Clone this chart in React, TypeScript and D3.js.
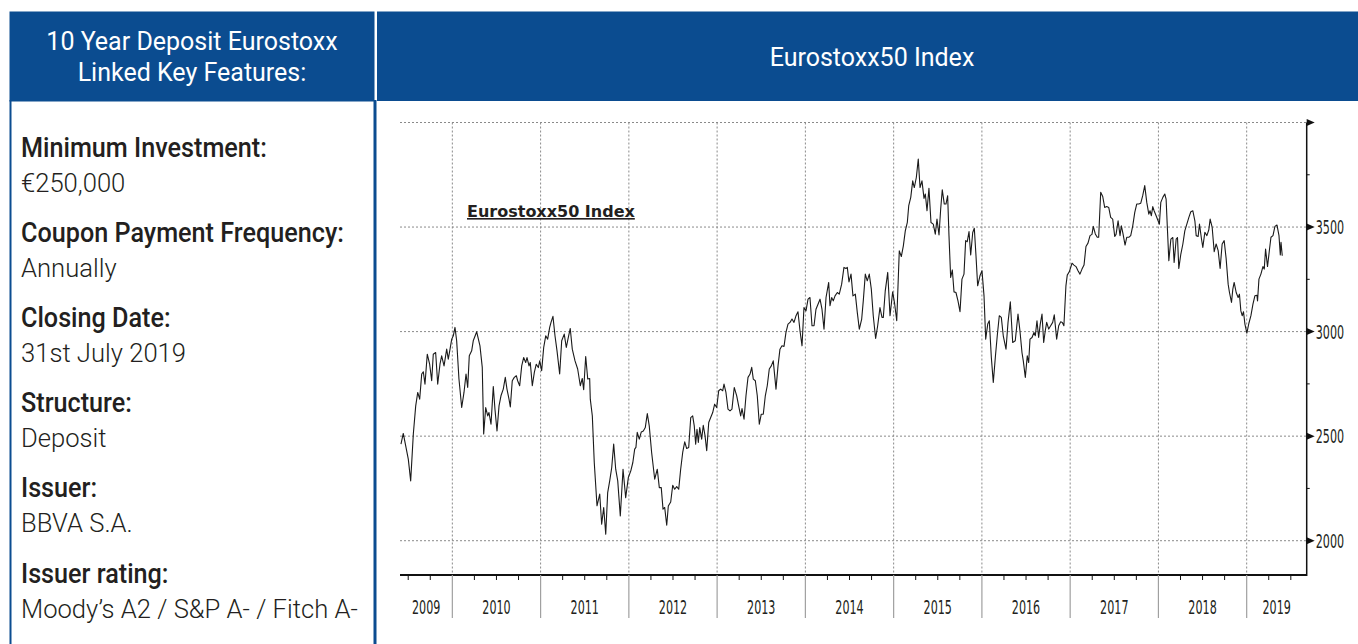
import React from 'react';
import * as d3 from 'd3';

// ---- Data (decimal years, index level) ----
const indexTimes = [
  2009.418, 2009.444, 2009.475, 2009.501, 2009.528, 2009.558, 2009.585, 2009.608, 2009.630, 2009.653,
  2009.671, 2009.690, 2009.716, 2009.743, 2009.766, 2009.784, 2009.811, 2009.834, 2009.860, 2009.879,
  2009.906, 2009.936, 2009.954, 2009.974, 2009.993, 2010.011, 2010.030, 2010.049, 2010.075, 2010.106,
  2010.132, 2010.155, 2010.174, 2010.192, 2010.219, 2010.237, 2010.276, 2010.313, 2010.339, 2010.355,
  2010.378, 2010.401, 2010.415, 2010.438, 2010.464, 2010.483, 2010.506, 2010.529, 2010.551, 2010.577,
  2010.600, 2010.619, 2010.642, 2010.657, 2010.679, 2010.702, 2010.725, 2010.740, 2010.763, 2010.786,
  2010.808, 2010.831, 2010.846, 2010.869, 2010.883, 2010.906, 2010.929, 2010.951, 2010.974, 2010.990,
  2011.012, 2011.035, 2011.058, 2011.080, 2011.103, 2011.118, 2011.140, 2011.163, 2011.186, 2011.216,
  2011.239, 2011.268, 2011.291, 2011.314, 2011.336, 2011.359, 2011.390, 2011.420, 2011.450, 2011.472,
  2011.488, 2011.511, 2011.534, 2011.556, 2011.563, 2011.586, 2011.608, 2011.639, 2011.670, 2011.692,
  2011.715, 2011.738, 2011.760, 2011.783, 2011.806, 2011.828, 2011.851, 2011.874, 2011.903, 2011.934,
  2011.964, 2011.994, 2012.022, 2012.045, 2012.066, 2012.080, 2012.095, 2012.118, 2012.141, 2012.164,
  2012.186, 2012.209, 2012.231, 2012.258, 2012.293, 2012.322, 2012.345, 2012.367, 2012.387, 2012.406,
  2012.429, 2012.447, 2012.474, 2012.497, 2012.519, 2012.542, 2012.565, 2012.587, 2012.610, 2012.633,
  2012.655, 2012.678, 2012.701, 2012.723, 2012.741, 2012.757, 2012.772, 2012.787, 2012.803, 2012.825,
  2012.843, 2012.863, 2012.882, 2012.905, 2012.927, 2012.950, 2012.972, 2012.995, 2013.018, 2013.040,
  2013.063, 2013.078, 2013.100, 2013.123, 2013.146, 2013.168, 2013.194, 2013.222, 2013.244, 2013.267,
  2013.282, 2013.305, 2013.327, 2013.350, 2013.373, 2013.392, 2013.410, 2013.433, 2013.455, 2013.478,
  2013.500, 2013.523, 2013.546, 2013.568, 2013.591, 2013.614, 2013.636, 2013.667, 2013.690, 2013.712,
  2013.735, 2013.758, 2013.780, 2013.803, 2013.826, 2013.848, 2013.871, 2013.894, 2013.916, 2013.939,
  2013.962, 2013.984, 2014.007, 2014.030, 2014.052, 2014.075, 2014.098, 2014.120, 2014.143, 2014.166,
  2014.188, 2014.211, 2014.234, 2014.264, 2014.279, 2014.298, 2014.316, 2014.336, 2014.362, 2014.384,
  2014.411, 2014.437, 2014.460, 2014.475, 2014.494, 2014.517, 2014.539, 2014.566, 2014.588, 2014.611,
  2014.638, 2014.656, 2014.679, 2014.701, 2014.724, 2014.747, 2014.769, 2014.796, 2014.819, 2014.845,
  2014.868, 2014.883, 2014.905, 2014.933, 2014.959, 2014.989, 2015.012, 2015.035, 2015.064, 2015.087,
  2015.110, 2015.132, 2015.155, 2015.171, 2015.194, 2015.216, 2015.234, 2015.257, 2015.279, 2015.299,
  2015.321, 2015.344, 2015.359, 2015.378, 2015.400, 2015.423, 2015.449, 2015.472, 2015.491, 2015.514,
  2015.533, 2015.551, 2015.574, 2015.593, 2015.612, 2015.627, 2015.646, 2015.665, 2015.684, 2015.706,
  2015.729, 2015.752, 2015.774, 2015.797, 2015.816, 2015.834, 2015.854, 2015.873, 2015.896, 2015.914,
  2015.933, 2015.952, 2015.978, 2016.001, 2016.024, 2016.043, 2016.066, 2016.084, 2016.107, 2016.129,
  2016.152, 2016.174, 2016.197, 2016.220, 2016.242, 2016.273, 2016.296, 2016.322, 2016.349, 2016.378,
  2016.409, 2016.431, 2016.454, 2016.469, 2016.492, 2016.514, 2016.530, 2016.545, 2016.568, 2016.590,
  2016.605, 2016.624, 2016.643, 2016.661, 2016.681, 2016.700, 2016.718, 2016.734, 2016.757, 2016.779,
  2016.802, 2016.820, 2016.847, 2016.870, 2016.893, 2016.911, 2016.929, 2016.952, 2016.967, 2016.990,
  2017.021, 2017.043, 2017.066, 2017.089, 2017.111, 2017.134, 2017.157, 2017.179, 2017.202, 2017.225,
  2017.247, 2017.262, 2017.285, 2017.307, 2017.323, 2017.346, 2017.369, 2017.391, 2017.414, 2017.437,
  2017.459, 2017.482, 2017.505, 2017.520, 2017.543, 2017.565, 2017.580, 2017.599, 2017.622, 2017.641,
  2017.664, 2017.686, 2017.709, 2017.732, 2017.754, 2017.777, 2017.800, 2017.822, 2017.845, 2017.868,
  2017.891, 2017.905, 2017.920, 2017.936, 2017.951, 2017.974, 2017.996, 2018.011, 2018.027, 2018.050,
  2018.072, 2018.087, 2018.102, 2018.118, 2018.141, 2018.163, 2018.178, 2018.201, 2018.216, 2018.231,
  2018.254, 2018.277, 2018.299, 2018.322, 2018.345, 2018.367, 2018.390, 2018.413, 2018.428, 2018.450,
  2018.465, 2018.488, 2018.503, 2018.526, 2018.549, 2018.571, 2018.586, 2018.609, 2018.632, 2018.654,
  2018.677, 2018.699, 2018.722, 2018.745, 2018.767, 2018.790, 2018.805, 2018.828, 2018.843, 2018.858,
  2018.881, 2018.903, 2018.918, 2018.934, 2018.949, 2018.964, 2018.980, 2019.002, 2019.025, 2019.048,
  2019.071, 2019.093, 2019.116, 2019.123, 2019.139, 2019.161, 2019.184, 2019.199, 2019.214, 2019.236,
  2019.259, 2019.275, 2019.298, 2019.320, 2019.343, 2019.366, 2019.381, 2019.389, 2019.403,
];

const indexValues = [
  2462, 2513, 2446, 2390, 2286, 2510, 2645, 2709, 2677, 2797,
  2808, 2749, 2892, 2844, 2765, 2892, 2900, 2749, 2844, 2884,
  2836, 2916, 2868, 2916, 2964, 2980, 3020, 2956, 2773, 2637,
  2709, 2797, 2733, 2884, 2908, 2956, 2999, 2932, 2829, 2510,
  2637, 2597, 2613, 2557, 2737, 2629, 2525, 2645, 2693, 2725,
  2781, 2725, 2677, 2640, 2765, 2781, 2789, 2765, 2741, 2836,
  2876, 2852, 2876, 2836, 2852, 2741, 2805, 2844, 2828, 2860,
  2813, 2924, 2980, 2964, 3020, 3044, 3073, 2980, 2908, 2797,
  2956, 2988, 2924, 2972, 3015, 2916, 2860, 2821, 2741, 2776,
  2722, 2881, 2773, 2776, 2677, 2597, 2374, 2167, 2223, 2079,
  2159, 2031, 2230, 2286, 2350, 2462, 2342, 2286, 2118, 2342,
  2206, 2302, 2334, 2374, 2438, 2446, 2518, 2486, 2520, 2525,
  2541, 2608, 2549, 2422, 2294, 2342, 2254, 2254, 2151, 2159,
  2074, 2166, 2185, 2265, 2246, 2259, 2246, 2342, 2422, 2473,
  2441, 2446, 2589, 2597, 2549, 2462, 2533, 2470, 2541, 2486,
  2552, 2502, 2430, 2565, 2589, 2613, 2653, 2637, 2717, 2725,
  2717, 2749, 2709, 2629, 2621, 2629, 2733, 2693, 2645, 2597,
  2632, 2581, 2693, 2781, 2797, 2829, 2773, 2765, 2693, 2557,
  2605, 2605, 2693, 2741, 2821, 2836, 2860, 2725, 2836, 2916,
  2932, 2929, 2996, 3036, 3044, 3060, 3044, 3076, 3095, 3004,
  2932, 3115, 3099, 3155, 3163, 3028, 3028, 3107, 3131, 3155,
  3107, 3012, 3163, 3235, 3124, 3163, 3147, 3171, 3187, 3179,
  3227, 3307, 3302, 3307, 3238, 3275, 3171, 3179, 3092, 3012,
  3060, 3147, 3275, 3243, 3275, 3203, 3076, 2967, 3028, 3115,
  3068, 3068, 3195, 3283, 3076, 3190, 3131, 3052, 3386, 3359,
  3410, 3482, 3522, 3602, 3642, 3721, 3689, 3737, 3825, 3689,
  3721, 3637, 3658, 3578, 3685, 3522, 3514, 3466, 3538, 3462,
  3586, 3678, 3610, 3610, 3650, 3459, 3259, 3295, 3190, 3187,
  3147, 3095, 3251, 3275, 3435, 3430, 3478, 3366, 3474, 3494,
  3363, 3219, 3267, 3291, 3171, 2964, 3036, 3052, 2876, 2757,
  2876, 2980, 3076, 3068, 2980, 2916, 3044, 3143, 2948, 2956,
  3084, 3004, 2900, 2860, 2781, 2884, 2852, 2964, 2972, 2996,
  2980, 3052, 2972, 3036, 3084, 2948, 3004, 3044, 3012, 3028,
  3044, 3080, 2964, 3028, 3047, 3044, 3028, 3219, 3270, 3286,
  3327, 3318, 3311, 3291, 3275, 3299, 3318, 3407, 3423, 3459,
  3465, 3503, 3467, 3451, 3451, 3666, 3646, 3594, 3598, 3594,
  3546, 3538, 3455, 3465, 3530, 3459, 3506, 3467, 3414, 3451,
  3451, 3459, 3506, 3570, 3610, 3610, 3614, 3650, 3698, 3618,
  3562, 3578, 3554, 3598, 3578, 3554, 3530, 3514, 3618, 3642,
  3658, 3634, 3490, 3339, 3442, 3450, 3331, 3442, 3450, 3302,
  3371, 3419, 3482, 3514, 3546, 3573, 3578, 3530, 3459, 3455,
  3514, 3443, 3403, 3475, 3459, 3487, 3538, 3498, 3382, 3419,
  3387, 3302, 3419, 3435, 3350, 3227, 3187, 3140, 3203, 3235,
  3187, 3163, 3179, 3099, 3076, 3095, 3036, 2993, 3040, 3076,
  3131, 3171, 3174, 3147, 3251, 3275, 3311, 3299, 3395, 3311,
  3395, 3451, 3459, 3503, 3510, 3459, 3366, 3427, 3363,
];

const yearLabels = [2009, 2010, 2011, 2012, 2013, 2014, 2015, 2016, 2017, 2018, 2019];
const yTickValues = [2000, 2500, 3000, 3500, 4000];
const yMinorTickValues = [2250, 2750, 3250, 3750];
const yLabelValues = [2000, 2500, 3000, 3500];

const featureLabels = [
  'Minimum Investment:',
  'Coupon Payment Frequency:',
  'Closing Date:',
  'Structure:',
  'Issuer:',
  'Issuer rating:',
];
const featureValues = [
  '€250,000',
  'Annually',
  '31st July 2019',
  'Deposit',
  'BBVA S.A.',
  'Moody’s A2 / S&P A- / Fitch A-',
];

const leftTitle = ['10 Year Deposit Eurostoxx', 'Linked Key Features:'];
const rightTitle = 'Eurostoxx50 Index';
const chartLabel = 'Eurostoxx50 Index';

const xDomain: [number, number] = [2009.407, 2019.68];
const yDomain: [number, number] = [1836, 4000];

const BLUE = '#0b4c90';
const TEXT = '#231f20';
const HEAD_FONT = 'Roboto, "Liberation Sans", sans-serif';
const AX_FONT = '"DejaVu Sans Condensed", "Liberation Sans Narrow", sans-serif';
const AX_SIZE = 20;
const AX_SQUEEZE = 0.62;

export default function App() {
  const W = 1358;
  const H = 644;
  const plot = { left: 400, right: 1306.7, top: 122.5, bottom: 575 };

  const x = d3.scaleLinear().domain(xDomain).range([plot.left, plot.right]);
  const y = d3.scaleLinear().domain(yDomain).range([plot.bottom, plot.top]);

  const points: [number, number][] = indexTimes.map((t, i) => [t, indexValues[i]]);
  const line = d3
    .line<[number, number]>()
    .x((d) => x(d[0]))
    .y((d) => y(d[1]));

  const yearStarts = yearLabels.filter((yr) => yr > xDomain[0] && yr < xDomain[1]);
  const quarterTicks = d3
    .range(Math.ceil(xDomain[0] * 4), Math.floor(xDomain[1] * 4) + 1)
    .map((q) => q / 4)
    .filter((q) => q % 1 !== 0);

  const rowStep = 85.2;
  const textX = 21;

  return (
    <svg
      width={W}
      height={H}
      style={{ position: 'fixed', left: 0, top: 0, background: '#fff' }}
    >
      <rect x={0} y={0} width={W} height={H} fill="#fff" />
      {/* Left panel */}
      <rect x={9.5} y={11.5} width={365} height={90} fill={BLUE} />
      <line x1={10.5} x2={10.5} y1={100} y2={H} stroke={BLUE} strokeWidth={2} />
      <line x1={375} x2={375} y1={100} y2={H} stroke={BLUE} strokeWidth={3} />
      {leftTitle.map((t, i) => (
        <text
          key={t}
          x={192}
          y={50 + i * 31}
          textAnchor="middle"
          fill="#fff"
          fontFamily={HEAD_FONT}
          fontSize={25}
        >
          {t}
        </text>
      ))}
      {featureLabels.map((lab, i) => (
        <g key={lab}>
          <text
            x={0}
            y={156.7 + i * rowStep}
            transform={`translate(${textX},0) scale(0.9,1)`}
            fill={TEXT}
            fontFamily={HEAD_FONT}
            fontWeight={500}
            fontSize={28}
          >
            {lab}
          </text>
          <text
            x={0}
            y={191.7 + i * rowStep}
            transform={`translate(${textX},0) scale(0.985,1)`}
            fill={TEXT}
            fontFamily={HEAD_FONT}
            fontWeight={300}
            fontSize={26}
          >
            {featureValues[i]}
          </text>
        </g>
      ))}

      {/* Right header */}
      <rect x={377} y={11.5} width={W - 377} height={89.5} fill={BLUE} />
      <text
        x={872}
        y={66}
        textAnchor="middle"
        fill="#fff"
        fontFamily={HEAD_FONT}
        fontSize={25}
      >
        {rightTitle}
      </text>

      {/* Grid */}
      {yTickValues.map((v) => (
        <line
          key={'hg' + v}
          x1={plot.left}
          x2={plot.right}
          y1={y(v)}
          y2={y(v)}
          stroke="#8a8a8a"
          strokeWidth={1}
          strokeDasharray="2,2"
        />
      ))}
      {yearStarts.map((yr) => (
        <line
          key={'vg' + yr}
          x1={x(yr)}
          x2={x(yr)}
          y1={plot.top}
          y2={plot.bottom}
          stroke="#8a8a8a"
          strokeWidth={1}
          strokeDasharray="2,2"
        />
      ))}

      {/* Chart label */}
      <text
        x={467}
        y={217}
        fill={TEXT}
        fontFamily='"DejaVu Sans", sans-serif'
        fontWeight="bold"
        fontSize={16}
        textDecoration="underline"
      >
        {chartLabel}
      </text>

      {/* Series */}
      <path d={line(points) || ''} fill="none" stroke="#1a1a1a" strokeWidth={1.1} strokeLinejoin="round" />

      {/* X axis */}
      <line x1={plot.left} x2={plot.right} y1={plot.bottom} y2={plot.bottom} stroke="#111" strokeWidth={2} />
      {quarterTicks.map((q) => (
        <line key={'qt' + q} x1={x(q)} x2={x(q)} y1={plot.bottom} y2={plot.bottom + 5} stroke="#111" strokeWidth={1} />
      ))}
      {yearStarts.map((yr) => (
        <line key={'yt' + yr} x1={x(yr)} x2={x(yr)} y1={plot.bottom} y2={plot.bottom + 43} stroke="#a0a0a0" strokeWidth={1.2} />
      ))}
      {yearLabels.map((yr) => {
        const a = Math.max(yr, xDomain[0]);
        const b = Math.min(yr + 1, xDomain[1]);
        const cx = (x(a) + x(b)) / 2;
        return (
          <text
            key={'yl' + yr}
            x={0}
            y={0}
            transform={`translate(${cx},614) scale(${AX_SQUEEZE},1)`}
            textAnchor="middle"
            fill={TEXT}
            fontFamily={AX_FONT}
            fontSize={AX_SIZE}
          >
            {yr}
          </text>
        );
      })}

      {/* Y axis (right) */}
      <line x1={plot.right} x2={plot.right} y1={plot.top} y2={plot.bottom + 1} stroke="#111" strokeWidth={1.5} />
      {yTickValues.map((v) => (
        <path
          key={'ya' + v}
          d={`M${plot.right},${y(v) - 3.5} L${plot.right + 8},${y(v)} L${plot.right},${y(v) + 3.5} Z`}
          fill="#111"
        />
      ))}
      {yMinorTickValues.map((v) => (
        <line key={'ym' + v} x1={plot.right} x2={plot.right + 3} y1={y(v)} y2={y(v)} stroke="#111" strokeWidth={1} />
      ))}
      {yLabelValues.map((v) => (
        <text
          key={'yl' + v}
          x={0}
          y={0}
          transform={`translate(${plot.right + 9},${y(v) + 7}) scale(${AX_SQUEEZE},1)`}
          fill={TEXT}
          fontFamily={AX_FONT}
          fontSize={AX_SIZE}
        >
          {v}
        </text>
      ))}
    </svg>
  );
}
